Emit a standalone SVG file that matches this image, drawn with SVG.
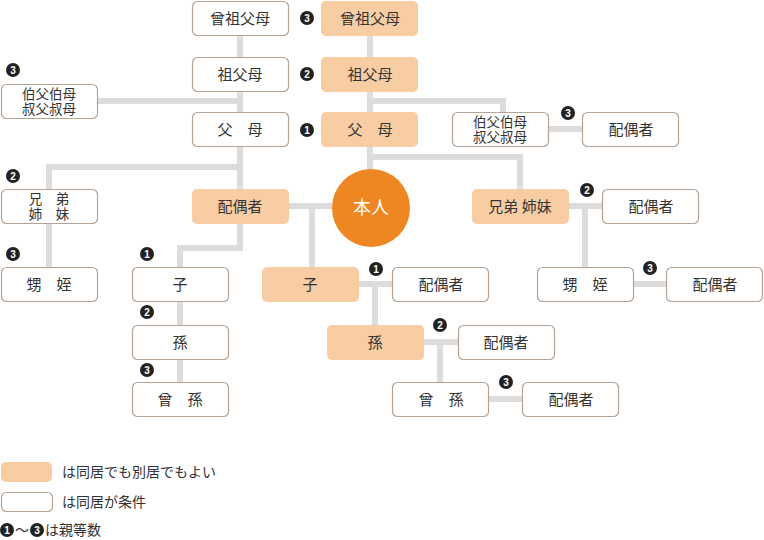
<svg xmlns="http://www.w3.org/2000/svg" width="764" height="540" viewBox="0 0 764 540">
<style>
.w{fill:#fff;stroke:#b5a496;stroke-width:1.2}
.o{fill:#f8cda4}
.t{font-family:"Noto Sans CJK JP",sans-serif;font-size:15px;fill:#333;text-anchor:middle}
.ts{font-family:"Noto Sans CJK JP",sans-serif;font-size:13.5px;fill:#333;text-anchor:middle}
.c{fill:none;stroke:#dcdcdc;stroke-width:6}
.b circle{fill:#222}
.b text{font-family:"Liberation Sans",sans-serif;font-size:10px;font-weight:bold;fill:#fff;text-anchor:middle}
.l{font-family:"Noto Sans CJK JP",sans-serif;font-size:14px;fill:#333}
</style>
<g id="connectors" class="c">
<path d="M240 35V189M240 223V248H180V399"/>
<path d="M97 101H240M240 167H49V267"/>
<path d="M370 35V170M370 101H503V112M370 157H520V189"/>
<path d="M549 129H582M288 206H332M312 206V267M358 284H392M375 284V325M423 342H458M440 342V382M489 399H522M569 206H602M585 206V267M634 284H666"/>
</g>
<g id="n1"><rect class="w" x="192.5" y="1.5" width="96" height="34" rx="5"/><text class="t" x="240" y="24">曾祖父母</text></g>
<g id="n2"><rect class="o" x="321" y="1" width="97" height="35" rx="5"/><text class="t" x="370" y="24">曾祖父母</text></g>
<g id="n3"><rect class="w" x="192.5" y="57.5" width="96" height="34" rx="5"/><text class="t" x="240" y="80">祖父母</text></g>
<g id="n4"><rect class="o" x="321" y="57" width="97" height="35" rx="5"/><text class="t" x="370" y="80">祖父母</text></g>
<g id="n5"><rect class="w" x="1.5" y="84.5" width="96" height="34" rx="5"/><text class="ts" x="49" y="99">伯父伯母</text><text class="ts" x="49" y="114">叔父叔母</text></g>
<g id="n6"><rect class="w" x="192.5" y="112.5" width="96" height="34" rx="5"/><text class="t" x="240" y="135">父　母</text></g>
<g id="n7"><rect class="o" x="321" y="112" width="97" height="35" rx="5"/><text class="t" x="370" y="135">父　母</text></g>
<g id="n8"><rect class="w" x="452.5" y="112.5" width="96" height="34" rx="5"/><text class="ts" x="500" y="127">伯父伯母</text><text class="ts" x="500" y="142">叔父叔母</text></g>
<g id="n9"><rect class="w" x="582.5" y="112.5" width="96" height="34" rx="5"/><text class="t" x="631" y="135">配偶者</text></g>
<g id="n10"><rect class="w" x="1.5" y="189.5" width="96" height="34" rx="5"/><text class="ts" x="49" y="204">兄　弟</text><text class="ts" x="49" y="219">姉　妹</text></g>
<g id="n11"><rect class="o" x="192" y="189" width="97" height="35" rx="5"/><text class="t" x="240" y="212">配偶者</text></g>
<g id="n12"><circle cx="371" cy="208" r="39" fill="#ee8621"/><text class="t" x="371" y="214" style="fill:#fff;font-size:18px">本人</text></g>
<g id="n13"><rect class="o" x="472" y="189" width="97" height="35" rx="5"/><text class="t" x="520" y="212">兄弟 姉妹</text></g>
<g id="n14"><rect class="w" x="602.5" y="189.5" width="96" height="34" rx="5"/><text class="t" x="651" y="212">配偶者</text></g>
<g id="n15"><rect class="w" x="1.5" y="267.5" width="96" height="34" rx="5"/><text class="t" x="49" y="290">甥　姪</text></g>
<g id="n16"><rect class="w" x="132.5" y="267.5" width="96" height="34" rx="5"/><text class="t" x="180" y="290">子</text></g>
<g id="n17"><rect class="o" x="262" y="267" width="97" height="35" rx="5"/><text class="t" x="310" y="290">子</text></g>
<g id="n18"><rect class="w" x="392.5" y="267.5" width="96" height="34" rx="5"/><text class="t" x="441" y="290">配偶者</text></g>
<g id="n19"><rect class="w" x="537.5" y="267.5" width="96" height="34" rx="5"/><text class="t" x="585" y="290">甥　姪</text></g>
<g id="n20"><rect class="w" x="666.5" y="267.5" width="96" height="34" rx="5"/><text class="t" x="715" y="290">配偶者</text></g>
<g id="n21"><rect class="w" x="132.5" y="325.5" width="96" height="34" rx="5"/><text class="t" x="180" y="348">孫</text></g>
<g id="n22"><rect class="o" x="327" y="325" width="97" height="35" rx="5"/><text class="t" x="375" y="348">孫</text></g>
<g id="n23"><rect class="w" x="458.5" y="325.5" width="96" height="34" rx="5"/><text class="t" x="506" y="348">配偶者</text></g>
<g id="n24"><rect class="w" x="132.5" y="382.5" width="96" height="34" rx="5"/><text class="t" x="180" y="405">曾　孫</text></g>
<g id="n25"><rect class="w" x="392.5" y="382.5" width="96" height="34" rx="5"/><text class="t" x="441" y="405">曾　孫</text></g>
<g id="n26"><rect class="w" x="522.5" y="382.5" width="96" height="34" rx="5"/><text class="t" x="571" y="405">配偶者</text></g>
<g id="badges" class="b">
<circle cx="307" cy="18" r="7"/><text x="307" y="22">3</text>
<circle cx="307" cy="74" r="7"/><text x="307" y="78">2</text>
<circle cx="307" cy="130" r="7"/><text x="307" y="134">1</text>
<circle cx="13" cy="70" r="7"/><text x="13" y="74">3</text>
<circle cx="13" cy="176" r="7"/><text x="13" y="180">2</text>
<circle cx="13" cy="254" r="7"/><text x="13" y="258">3</text>
<circle cx="147" cy="254" r="7"/><text x="147" y="258">1</text>
<circle cx="147" cy="312" r="7"/><text x="147" y="316">2</text>
<circle cx="147" cy="370" r="7"/><text x="147" y="374">3</text>
<circle cx="376" cy="269" r="7"/><text x="376" y="273">1</text>
<circle cx="568" cy="113" r="7"/><text x="568" y="117">3</text>
<circle cx="587" cy="190" r="7"/><text x="587" y="194">2</text>
<circle cx="650" cy="268" r="7"/><text x="650" y="272">3</text>
<circle cx="440" cy="325" r="7"/><text x="440" y="329">2</text>
<circle cx="506" cy="382" r="7"/><text x="506" y="386">3</text>
<circle cx="7" cy="530" r="7"/><text x="7" y="534">1</text>
<circle cx="37" cy="530" r="7"/><text x="37" y="534">3</text>
</g>
<g id="legend">
<rect class="o" x="1" y="462" width="51" height="20" rx="5"/><text class="l" x="62" y="477">は同居でも別居でもよい</text>
<rect class="w" x="1.5" y="492.5" width="51" height="19" rx="5"/><text class="l" x="62" y="507">は同居が条件</text>
<text class="l" x="15" y="535">〜</text><text class="l" x="45" y="535">は親等数</text>
</g>
</svg>
